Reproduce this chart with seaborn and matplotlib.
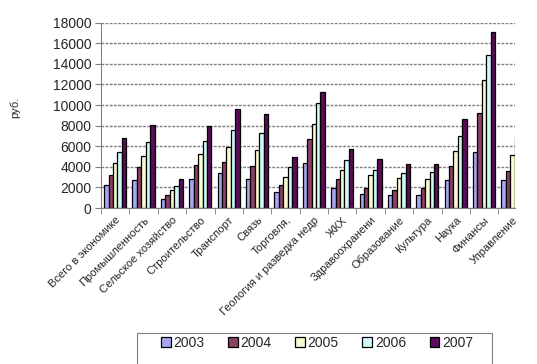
import numpy as np
import pandas as pd
import matplotlib
matplotlib.use("Agg")
import matplotlib.pyplot as plt
from matplotlib.patches import Rectangle
import seaborn as sns

sectors = [
    "Всего в экономике", "Промышленность", "Сельское хозяйство", "Строительство",
    "Транспорт", "Связь", "Торговля,", "Геология и разведка недр", "ЖКХ",
    "Здравоохранени", "Образование", "Культура", "Наука", "Финансы", "Управление",
]
years = ["2003", "2004", "2005", "2006", "2007"]

w2003 = [2200, 2750, 840, 2780, 3370, 2850, 1550, 4340, 1940, 1360, 1260, 1260, 2750, 5410, 2690]
w2004 = [3200, 3950, 1290, 4140, 4430, 4080, 2270, 6700, 2780, 1970, 1780, 1940, 4050, 9270, 3600]
w2005 = [4340, 5080, 1780, 5210, 5920, 5660, 3040, 8120, 3660, 3240, 2950, 2850, 5540, 12450, 5150]
w2006 = [5440, 6410, 2170, 6500, 7600, 7250, 3950, 10230, 4660, 3720, 3370, 3470, 6970, 14880, 6940]
w2007 = [6830, 8030, 2780, 7930, 9610, 9130, 4920, 11290, 5760, 4760, 4250, 4310, 8620, 17050, 8300]

colors = ["#9999FF", "#993366", "#FFFFCC", "#CCFFFF", "#660066"]

df = pd.DataFrame({
    "sector": sectors * 5,
    "year": np.repeat(years, len(sectors)),
    "wage": w2003 + w2004 + w2005 + w2006 + w2007,
})

sns.set_style("white")
plt.rcParams["font.family"] = ["Liberation Sans", "DejaVu Sans"]

fig = plt.figure(figsize=(5.37, 3.64), dpi=100)
ax = fig.add_axes([101 / 537, 1 - 208 / 364, 414 / 537, (208 - 22.7) / 364])

sns.barplot(data=df, x="sector", y="wage", hue="year", palette=colors,
            width=0.78, edgecolor="black", linewidth=0.9, ax=ax)

ax.set_ylim(0, 18000)
ax.set_xlim(-0.5, 14.09)
ax.set_yticks(np.arange(0, 18001, 2000))
ax.yaxis.grid(True, color="#7f7f7f", linestyle=(0, (2, 1)), linewidth=1)
ax.set_axisbelow(True)

for side in ["top", "right"]:
    ax.spines[side].set_visible(False)
ax.spines["left"].set_color("#808080")
ax.spines["bottom"].set_color("#808080")

ax.tick_params(axis="y", length=4, color="#808080", labelsize=10, pad=3, left=True)
ax.set_xticks(np.arange(-0.5, 14.5, 1), minor=True)
ax.tick_params(axis="x", which="major", length=0, labelsize=8, pad=5)
ax.tick_params(axis="x", which="minor", length=4, color="#808080", bottom=True)
plt.setp(ax.get_xticklabels(), rotation=45, ha="right", rotation_mode="anchor")

ax.set_xlabel("")
ax.set_ylabel("руб.", fontsize=8)
ax.yaxis.set_label_coords(-0.196, 0.545)

handles, labels = ax.get_legend_handles_labels()
ax.get_legend().remove()
fig.legend(handles, labels, ncol=5, loc="upper left", mode="expand",
           bbox_to_anchor=(158 / 537, 1 - 333 / 364, 318 / 537, 0.0),
           frameon=False, fontsize=10, handlelength=0.7, handleheight=0.7,
           handletextpad=0.2, borderaxespad=0.0, borderpad=0.2)
fig.patches.append(Rectangle((137 / 537, -0.05), 355 / 537, 0.05 + 31 / 364,
                             transform=fig.transFigure, fill=False,
                             edgecolor="#808080", linewidth=0.8))

fig.savefig("out.png", dpi=100)
